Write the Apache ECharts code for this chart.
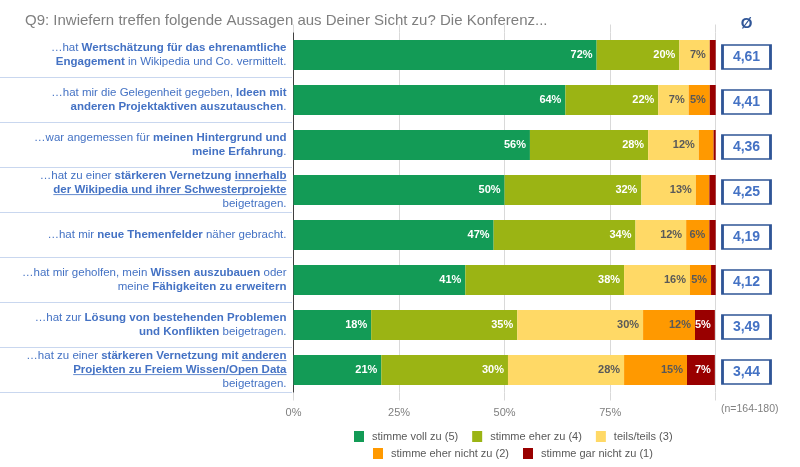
<!DOCTYPE html>
<html>
<head>
<meta charset="utf-8">
<script src="https://cdn.jsdelivr.net/npm/echarts@6/dist/echarts.min.js"></script>
<style>
html,body{margin:0;padding:0;background:#fff;}
#chart{width:800px;height:467px;}
</style>
</head>
<body>
<div id="chart"></div>
<script>
// ---- data ----
const categories = [
  '{r|…hat }{b|Wertschätzung für das ehrenamtliche}\n{b|Engagement}{r| in Wikipedia und Co. vermittelt.}',
  '{r|…hat mir die Gelegenheit gegeben, }{b|Ideen mit}\n{b|anderen Projektaktiven auszutauschen}{r|.}',
  '{r|…war angemessen für }{b|meinen Hintergrund und}\n{b|meine Erfahrung}{r|.}',
  '{r|…hat zu einer }{b|stärkeren Vernetzung }{u|innerhalb}\n{u|der Wikipedia und ihrer Schwesterprojekte}\n{r|beigetragen.}',
  '{r|…hat mir }{b|neue Themenfelder}{r| näher gebracht.}',
  '{r|…hat mir geholfen, mein }{b|Wissen auszubauen}{r| oder}\n{r|meine }{b|Fähigkeiten zu erweitern}',
  '{r|…hat zur }{b|Lösung von bestehenden Problemen}\n{b|und Konflikten}{r| beigetragen.}',
  '{r|…hat zu einer }{b|stärkeren Vernetzung mit }{u|anderen}\n{u|Projekten zu Freiem Wissen/Open Data}\n{r|beigetragen.}'
];
const seriesNames = ['stimme voll zu (5)', 'stimme eher zu (4)', 'teils/teils (3)', 'stimme eher nicht zu (2)', 'stimme gar nicht zu (1)'];
const voll      = [71.8, 64.4, 56.0, 50.0, 47.4, 40.7, 18.4, 20.8];
const eher      = [19.6, 22.0, 28.0, 32.4, 33.6, 37.6, 34.6, 30.0];
const teils     = [7.2, 7.2, 12.0, 12.9, 12.0, 15.6, 29.8, 27.5];
const eherNicht = [0.0, 5.0, 3.5, 3.2, 5.5, 5.0, 12.3, 14.9];
const garNicht  = [1.4, 1.4, 0.5, 1.5, 1.5, 1.1, 4.7, 6.6];
const averages  = [4.61, 4.41, 4.36, 4.25, 4.19, 4.12, 3.49, 3.44];
const xTicks = [0, 25, 50, 75, 100];
const avgHeader = 'Ø';
const titleText = 'Q9: Inwiefern treffen folgende Aussagen aus Deiner Sicht zu? Die Konferenz...';
const noteText = '(n=164-180)';

// ---- styles ----
const colors = ['#139B56', '#9BB414', '#FFD966', '#FF9900', '#990000'];
const labelColors = ['#ffffff', '#ffffff', '#595959', '#595959', '#ffffff'];
const FONT = '"Liberation Sans", Arial, Helvetica, sans-serif';
const blue = '#4472C4';

function underlineImage(color) {
  const c = document.createElement('canvas');
  c.width = 4; c.height = 14;
  const ctx = c.getContext('2d');
  ctx.fillStyle = color;
  ctx.fillRect(0, 12, 4, 1);
  return c;
}

const rich = {
  r: { color: blue, fontSize: 11.5, lineHeight: 14, fontFamily: FONT },
  b: { color: blue, fontSize: 11.5, lineHeight: 14, fontWeight: 'bold', fontFamily: FONT },
  u: { color: blue, fontSize: 11.5, lineHeight: 14, fontWeight: 'bold', fontFamily: FONT,
       backgroundColor: { image: underlineImage(blue) } }
};

const gridTop = 32.5, gridBottom = 467 - 392.5;
const series = [voll, eher, teils, eherNicht, garNicht].map((arr, k) => ({
  name: seriesNames[k],
  type: 'bar',
  stack: 'total',
  xAxisIndex: 0, yAxisIndex: 0,
  barWidth: 30,
  data: arr,
  itemStyle: { color: colors[k] },
  emphasis: { disabled: true },
  label: {
    show: true,
    position: 'insideRight',
    distance: 4,
    color: labelColors[k],
    fontWeight: 'bold',
    fontSize: 11,
    fontFamily: FONT,
    formatter: p => (p.value >= 4.5 ? Math.round(p.value) + '%' : '')
  }
}));

series.push({
  type: 'scatter',
  xAxisIndex: 3, yAxisIndex: 2,
  symbol: 'rect',
  symbolSize: [48, 24],
  symbolOffset: [0, 2],
  itemStyle: { color: '#ffffff', borderColor: '#2F5597', borderWidth: 2, opacity: 1 },
  emphasis: { disabled: true },
  label: {
    show: true, position: 'inside',
    color: blue, fontWeight: 'bold', fontSize: 14, fontFamily: FONT,
    formatter: p => p.value[2].toFixed(2).replace('.', ',')
  },
  data: averages.map((v, i) => [0, i, v])
});

const chart = echarts.init(document.getElementById('chart'), null, { renderer: 'canvas' });
chart.setOption({
  animation: false,
  backgroundColor: '#ffffff',
  title: [
    { text: titleText, left: 20, top: 8, textStyle: { color: '#7F7F7F', fontSize: 15, fontWeight: 'normal', fontFamily: FONT } },
    { text: noteText, left: 716, top: 399, textStyle: { color: '#808080', fontSize: 10.5, fontWeight: 'normal', fontFamily: FONT } }
  ],
  legend: [
    { data: seriesNames.slice(0, 3), left: 349, top: 426, icon: 'rect', itemWidth: 10, itemHeight: 11, itemGap: 14,
      textStyle: { color: '#595959', fontSize: 11, fontFamily: FONT, padding: [0, 0, 0, 3] }, selectedMode: false },
    { data: seriesNames.slice(3), left: 368, top: 443, icon: 'rect', itemWidth: 10, itemHeight: 11, itemGap: 14,
      textStyle: { color: '#595959', fontSize: 11, fontFamily: FONT, padding: [0, 0, 0, 3] }, selectedMode: false }
  ],
  grid: [
    { left: 293.5, right: 800 - 715.7, top: gridTop, bottom: gridBottom },
    { left: 0, width: 292, top: gridTop, bottom: gridBottom },
    { left: 722, width: 49, top: gridTop, bottom: gridBottom }
  ],
  xAxis: [
    { type: 'value', gridIndex: 0, min: xTicks[0], max: xTicks[xTicks.length - 1], interval: 25, position: 'bottom',
      axisLine: { show: false },
      axisTick: { show: true, length: 8, lineStyle: { color: '#D9D9D9' } },
      splitLine: { show: true, lineStyle: { color: '#D9D9D9' } },
      axisLabel: { margin: 15, color: '#7F7F7F', fontSize: 11, fontFamily: FONT,
        formatter: v => (v === 100 ? '' : v + '%') } },
    { type: 'value', gridIndex: 0, min: xTicks[0], max: xTicks[xTicks.length - 1], interval: 25, position: 'top',
      axisLine: { show: false },
      axisTick: { show: true, length: 8, lineStyle: { color: '#D9D9D9' } },
      splitLine: { show: false }, axisLabel: { show: false } },
    { type: 'value', gridIndex: 1, show: false },
    { type: 'category', gridIndex: 2, data: [avgHeader], position: 'top',
      axisLine: { show: false }, axisTick: { show: false }, splitLine: { show: false },
      axisLabel: { margin: 1, color: '#2F5597', fontWeight: 'bold', fontSize: 15, fontFamily: FONT } }
  ],
  yAxis: [
    { type: 'category', gridIndex: 0, inverse: true, data: categories,
      axisLine: { show: true, lineStyle: { color: '#404040', width: 1 } },
      axisTick: { show: false },
      axisLabel: { margin: 7, align: 'right', rich: rich, formatter: v => v } },
    { type: 'category', gridIndex: 1, inverse: true, data: categories.map((_, i) => i),
      axisLine: { show: false }, axisTick: { show: false }, axisLabel: { show: false },
      splitLine: { show: true, interval: (idx) => idx > 0, lineStyle: { color: '#C9D7EF', width: 1 } } },
    { type: 'category', gridIndex: 2, inverse: true, data: categories.map((_, i) => i), show: false }
  ],
  series: series
});
</script>
</body>
</html>
